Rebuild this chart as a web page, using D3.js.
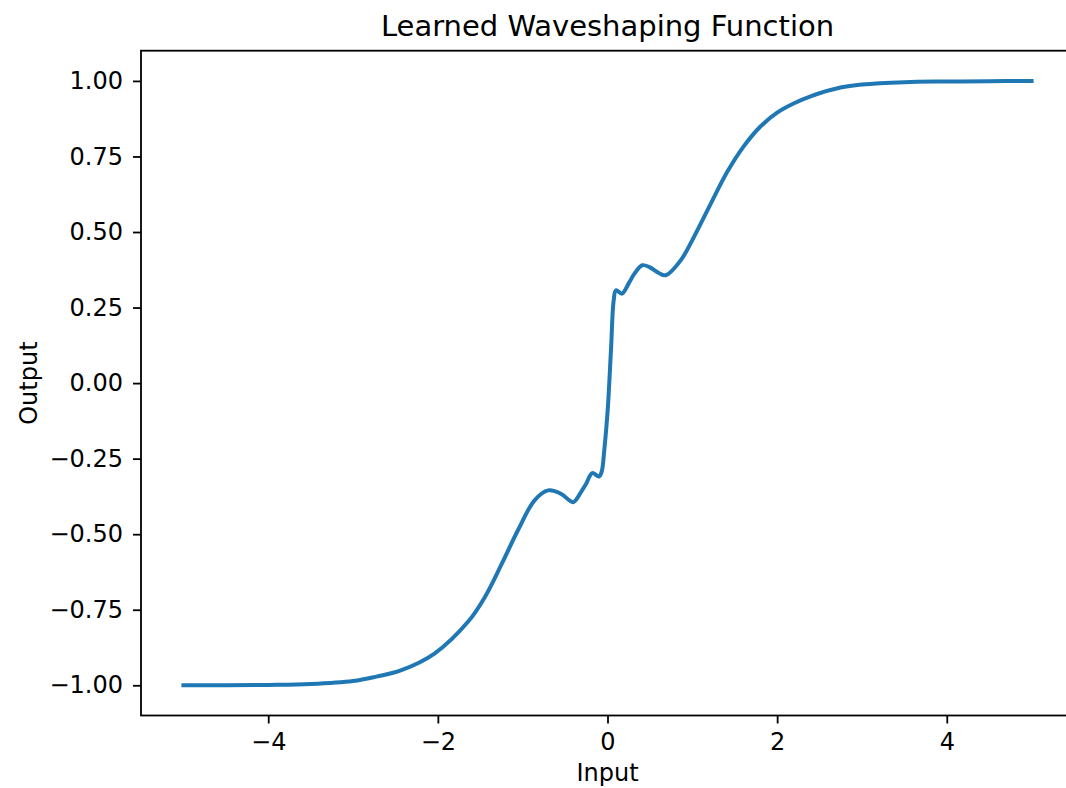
<!DOCTYPE html>
<html>
<head>
<meta charset="utf-8">
<script src="https://cdn.jsdelivr.net/npm/d3@7"></script>
<style>
  html, body { margin: 0; padding: 0; background: #fff; overflow: hidden; }
  svg { display: block; }
  text { font-family: "DejaVu Sans", sans-serif; fill: #000; }
</style>
</head>
<body>
<script>
// ---- data ----
const inputX = [-5, -4.5, -4, -3.5, -3, -2.75, -2.43, -2.04, -1.645, -1.45, -1.25, -1.056, -0.86, -0.70, -0.55, -0.45, -0.4, -0.3, -0.25, -0.18, -0.1, -0.068, -0.038, 0.002, 0.041, 0.073, 0.1, 0.17, 0.25, 0.32, 0.41, 0.5, 0.6, 0.688, 0.865, 1.02, 1.218, 1.414, 1.61, 1.806, 2.0, 2.2, 2.394, 2.747, 3, 3.5, 4, 4.5, 5];
const outputY = [-1.000, -1.000, -0.999, -0.996, -0.986, -0.973, -0.950, -0.895, -0.790, -0.710, -0.600, -0.487, -0.388, -0.355, -0.366, -0.388, -0.394, -0.355, -0.332, -0.298, -0.309, -0.292, -0.222, -0.090, 0.109, 0.274, 0.307, 0.296, 0.330, 0.363, 0.390, 0.383, 0.365, 0.357, 0.407, 0.484, 0.594, 0.700, 0.785, 0.850, 0.895, 0.926, 0.949, 0.978, 0.988, 0.996, 0.998, 0.999, 1.000];
const xTicks = [-4, -2, 0, 2, 4];
const yTicks = [-1.00, -0.75, -0.50, -0.25, 0.00, 0.25, 0.50, 0.75, 1.00];
const titleText = "Learned Waveshaping Function";
const xLabelText = "Input";
const yLabelText = "Output";

// ---- layout ----
const W = 1066, H = 788;
const mLeft = 141, mRight = 1074, mTop = 50.7, mBottom = 715.5;

const svg = d3.select("body").append("svg").attr("width", W).attr("height", H);

const x = d3.scaleLinear().domain([-5.5, 5.5]).range([mLeft, mRight]);
const y = d3.scaleLinear().domain([-1.1, 1.1]).range([mBottom, mTop]);

const numFmt = d3.format(".2f");
const fmtY = v => numFmt(v).replace("-", "\u2212");
const fmtX = v => String(v).replace("-", "\u2212");

// x axis
const xAxis = d3.axisBottom(x).tickValues(xTicks).tickFormat(fmtX).tickSize(8).tickPadding(9);
const gx = svg.append("g").attr("transform", `translate(0,${mBottom})`).call(xAxis);
gx.select(".domain").remove();
gx.selectAll(".tick line").attr("stroke", "#000").attr("stroke-width", 1.8);
gx.selectAll(".tick text").attr("font-size", 24).attr("font-family", "DejaVu Sans").attr("fill", "#000");

// y axis
const yAxis = d3.axisLeft(y).tickValues(yTicks).tickFormat(fmtY).tickSize(8).tickPadding(10);
const gy = svg.append("g").attr("transform", `translate(${mLeft},0)`).call(yAxis);
gy.select(".domain").remove();
gy.selectAll(".tick line").attr("stroke", "#000").attr("stroke-width", 1.8);
gy.selectAll(".tick text").attr("font-size", 24).attr("font-family", "DejaVu Sans").attr("fill", "#000");

// line
const pts = inputX.map((v, i) => [v, outputY[i]]);
const line = d3.line().x(d => x(d[0])).y(d => y(d[1])).curve(d3.curveCatmullRom.alpha(0.5));
svg.append("path").datum(pts)
  .attr("d", line)
  .attr("fill", "none")
  .attr("stroke", "#1f77b4")
  .attr("stroke-width", 4)
  .attr("stroke-linejoin", "round")
  .attr("stroke-linecap", "square");

// spines
svg.append("rect")
  .attr("x", mLeft).attr("y", mTop)
  .attr("width", mRight - mLeft).attr("height", mBottom - mTop)
  .attr("fill", "none").attr("stroke", "#000").attr("stroke-width", 1.8);

// title and labels
svg.append("text").attr("x", (mLeft + mRight) / 2).attr("y", 36)
  .attr("text-anchor", "middle").attr("font-size", 29).text(titleText);
svg.append("text").attr("x", (mLeft + mRight) / 2).attr("y", 781)
  .attr("text-anchor", "middle").attr("font-size", 24).text(xLabelText);
svg.append("text")
  .attr("transform", `translate(37,${(mTop + mBottom) / 2}) rotate(-90)`)
  .attr("text-anchor", "middle").attr("font-size", 24).text(yLabelText);
</script>
</body>
</html>
